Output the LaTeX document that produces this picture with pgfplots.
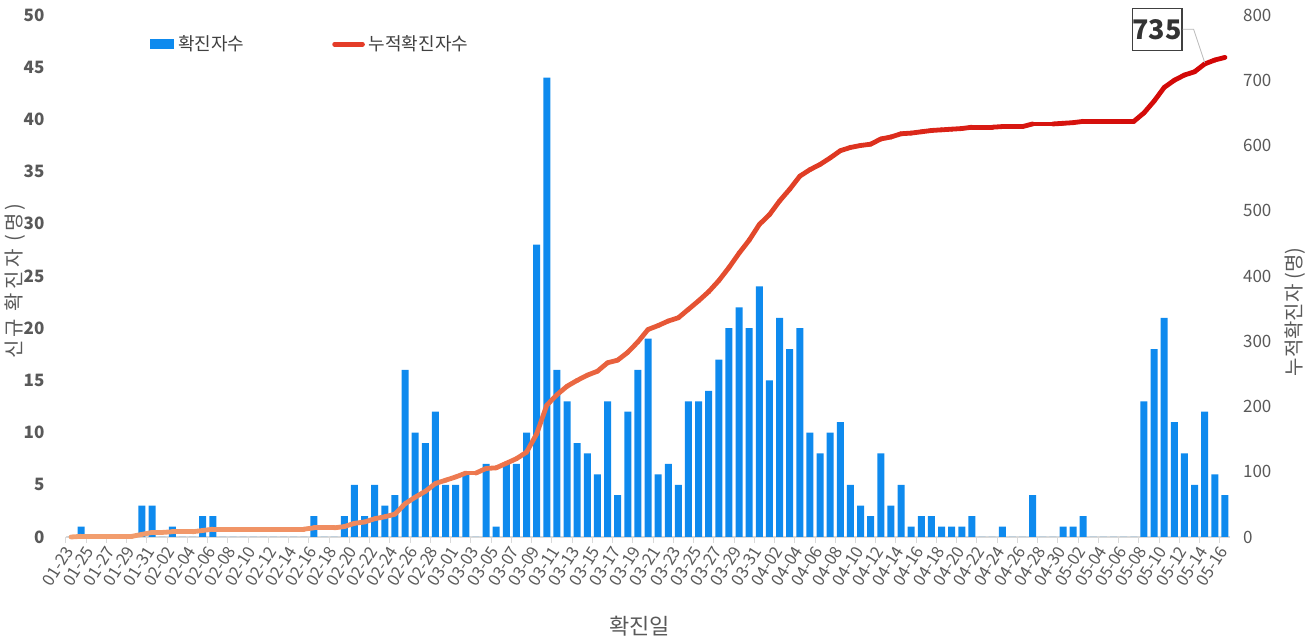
\documentclass[border=0pt]{standalone}
\usepackage{pgfplots}
\pgfplotsset{compat=1.18}
\usepackage{pgfplotstable}
\usepackage{fontspec}
\setmainfont{Noto Sans CJK KR}
\definecolor{barblue}{RGB}{14,138,238}
\definecolor{txtgray}{RGB}{89,89,89}
\definecolor{axgray}{RGB}{217,217,217}
\definecolor{legred}{RGB}{228,60,40}

\pgfplotstableread{
idx new cum
0 0 0
1 1 1
2 0 1
3 0 1
4 0 1
5 0 1
6 0 1
7 3 4
8 3 7
9 0 7
10 1 8
11 0 8
12 0 8
13 2 10
14 2 12
15 0 12
16 0 12
17 0 12
18 0 12
19 0 12
20 0 12
21 0 12
22 0 12
23 0 12
24 2 14
25 0 14
26 0 14
27 2 16
28 5 21
29 2 23
30 5 28
31 3 31
32 4 35
33 16 51
34 10 61
35 9 70
36 12 82
37 5 87
38 5 92
39 6 98
40 0 98
41 7 105
42 1 106
43 7 113
44 7 120
45 10 130
46 28 158
47 44 202
48 16 218
49 13 231
50 9 240
51 8 248
52 6 254
53 13 267
54 4 271
55 12 283
56 16 299
57 19 318
58 6 324
59 7 331
60 5 336
61 13 349
62 13 362
63 14 376
64 17 393
65 20 413
66 22 435
67 20 455
68 24 479
69 15 494
70 21 515
71 18 533
72 20 553
73 10 563
74 8 571
75 10 581
76 11 592
77 5 597
78 3 600
79 2 602
80 8 610
81 3 613
82 5 618
83 1 619
84 2 621
85 2 623
86 1 624
87 1 625
88 1 626
89 2 628
90 0 628
91 0 628
92 1 629
93 0 629
94 0 629
95 4 633
96 0 633
97 0 633
98 1 634
99 1 635
100 2 637
101 0 637
102 0 637
103 0 637
104 0 637
105 0 637
106 13 650
107 18 668
108 21 689
109 11 700
110 8 708
111 5 713
112 12 725
113 6 731
114 4 735
}\covid

\begin{document}
\begin{tikzpicture}
\useasboundingbox (0,0) rectangle (655.5pt,321pt);
\begin{axis}[
  at={(33pt,52.5pt)}, anchor=south west, scale only axis,
  width=582pt, height=261pt,
  xmin=-0.5, xmax=114.5, ymin=0, ymax=50,
  axis x line*=bottom, axis y line*=left,
  x axis line style={draw=axgray, line width=0.6pt, -},
  y axis line style={draw=none},
  ytick={0,5,...,50},
  ytick style={draw=none},
  yticklabel style={font=\fontsize{8.5}{10}\selectfont\bfseries, text=txtgray, xshift=-3pt},
  xtick={0,2,...,114},
  xticklabels={01-23,01-25,01-27,01-29,01-31,02-02,02-04,02-06,02-08,02-10,02-12,02-14,02-16,02-18,02-20,02-22,02-24,02-26,02-28,03-01,03-03,03-05,03-07,03-09,03-11,03-13,03-15,03-17,03-19,03-21,03-23,03-25,03-27,03-29,03-31,04-02,04-04,04-06,04-08,04-10,04-12,04-14,04-16,04-18,04-20,04-22,04-24,04-26,04-28,04-30,05-02,05-04,05-06,05-08,05-10,05-12,05-14,05-16},
  major x tick style={draw=none},
  minor xtick={-0.5,1.5,...,114.5},
  minor x tick style={draw=axgray, line width=0.5pt},
  minor tick length=3pt,
  tick align=outside,
  xticklabel style={rotate=58, anchor=east, font=\fontsize{8.3}{9}\selectfont, text=txtgray, xshift=2pt},
  ylabel={신규 확진자 (명)},
  ylabel style={at={(axis description cs:-0.0438,0.49)}, anchor=center, font=\fontsize{10}{12}\selectfont\addfontfeature{LetterSpace=16}, text=txtgray},
  xlabel={확진일},
  xlabel style={at={(axis description cs:0.493,-0.170)}, anchor=center, font=\fontsize{11}{13}\selectfont, text=txtgray},
  /pgf/number format/assume math mode=true,
  ybar, bar width=3.5pt,
]
\addplot[fill=barblue, draw=none] table[x=idx,y=new]{\covid};
\end{axis}
\begin{axis}[
  at={(33pt,52.5pt)}, anchor=south west, scale only axis,
  width=582pt, height=261pt,
  xmin=-0.5, xmax=114.5, ymin=0, ymax=800,
  axis x line=none, axis y line*=right,
  y axis line style={draw=none}, ytick style={draw=none},
  ytick={0,100,...,800},
  yticklabel style={font=\fontsize{8.5}{10}\selectfont, text=txtgray, xshift=3pt},
  ylabel={누적확진자 (명)},
  ylabel style={at={(axis description cs:1.0558,0.431)}, anchor=center, font=\fontsize{10}{12}\selectfont, text=txtgray},
  clip=false,
  legend style={at={(axis description cs:0.072,0.944)}, anchor=west, draw=none, fill=none, inner sep=0pt,
    legend columns=2, font=\fontsize{9}{11}\selectfont, text=black!75,
    /tikz/every even column/.append style={column sep=42pt}},
  /pgf/number format/assume math mode=true,
]
\addlegendimage{legend image code/.code={\fill[barblue] (0pt,-2.2pt) rectangle (11.5pt,2.2pt);}}
\addlegendimage{legend image code/.code={\draw[line width=2.3pt, line cap=round, legred] (0pt,0pt) -- (14pt,0pt);}}
\legend{확진자수,누적확진자수}
\addplot[mesh, forget plot, point meta=x, line width=2.4pt, line cap=round, line join=round,
  colormap={redgrad}{rgb255=(242,160,112) rgb255=(240,145,100) rgb255=(236,112,72) rgb255=(226,70,42) rgb255=(216,25,18) rgb255=(210,5,5)}]
  table[x=idx,y=cum]{\covid};
\node[draw=black!75, line width=0.8pt, fill=white, font=\fontsize{13.5}{16}\selectfont\bfseries, text=black!80,
  inner sep=0pt, minimum width=24.5pt, minimum height=21pt] (lbl) at (axis cs:107.3,778) {735};
\draw[gray!55, line width=0.4pt] (lbl.east) -- ++(3pt,0) -- (axis cs:112,727);
\end{axis}
\end{tikzpicture}
\end{document}
